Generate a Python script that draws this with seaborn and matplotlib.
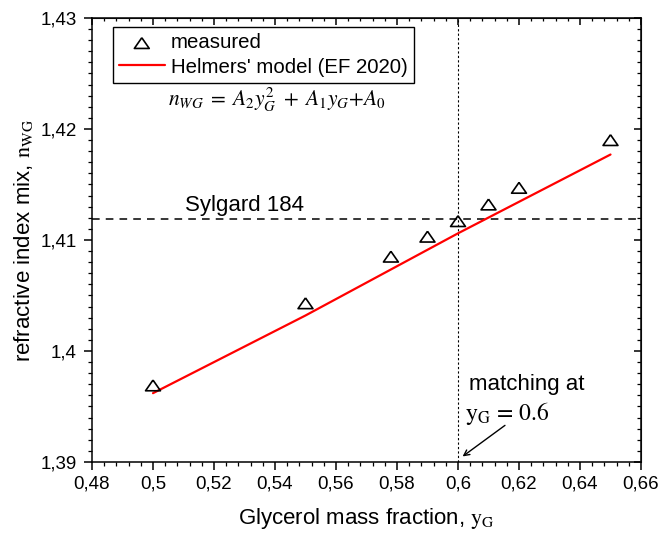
import numpy as np
import pandas as pd
import matplotlib
matplotlib.use("Agg")
import matplotlib.pyplot as plt
import seaborn as sns
from matplotlib.ticker import MultipleLocator, FuncFormatter

# measured data
y_meas = [0.50, 0.55, 0.578, 0.59, 0.60, 0.61, 0.62, 0.65]
n_meas = [1.3969, 1.4043, 1.4085, 1.4103, 1.4117, 1.4132, 1.4147, 1.4190]
# model curve
y_model = [0.50, 0.55, 0.60, 0.65]
n_model = [1.3962, 1.4032, 1.4106, 1.4177]
# reference values
n_sylgard = 1.4119
y_match = 0.6

sns.set_style("ticks")
plt.rcParams['font.family'] = ['Liberation Sans', 'DejaVu Sans']
plt.rcParams['mathtext.fontset'] = 'stix'
for k in ['text.color', 'axes.labelcolor', 'xtick.color', 'ytick.color',
          'xtick.labelcolor', 'ytick.labelcolor']:
    plt.rcParams[k] = 'black'

fig = plt.figure(figsize=(6.59, 5.34), dpi=100)
ax = fig.add_axes([92/659, 72/534, 549/659, 444/534])

df_m = pd.DataFrame({"y": y_meas, "n": n_meas})
df_l = pd.DataFrame({"y": y_model, "n": n_model})

tri = [(0, 0.72), (-1, -0.72), (1, -0.72), (0, 0.72)]

sns.lineplot(data=df_l, x="y", y="n", ax=ax, color="red", lw=1.6,
             label="Helmers' model (EF 2020)", zorder=3)
sns.scatterplot(data=df_m, x="y", y="n", ax=ax, marker=tri, s=115,
                facecolor="none", edgecolor="black", linewidth=1.2,
                label="measured", zorder=4)

ax.axhline(n_sylgard, color="black", ls=(0, (5, 4)), lw=1.1, zorder=2)
ax.axvline(y_match, color="black", ls=(0, (2, 2)), lw=0.8, zorder=2)

ax.set_xlim(0.48, 0.66)
ax.set_ylim(1.39, 1.43)

fmt = FuncFormatter(lambda v, p: ("%g" % round(v, 4)).replace(".", ","))
ax.xaxis.set_major_locator(MultipleLocator(0.02))
ax.xaxis.set_minor_locator(MultipleLocator(0.004))
ax.yaxis.set_major_locator(MultipleLocator(0.01))
ax.yaxis.set_minor_locator(MultipleLocator(0.001))
ax.xaxis.set_major_formatter(fmt)
ax.yaxis.set_major_formatter(fmt)
ax.tick_params(which="major", direction="out", length=6, width=1.1, labelsize=13.5,
               color="black", labelcolor="black")
ax.tick_params(which="minor", direction="out", length=3, width=0.9, color="black")
ax.tick_params(axis="x", pad=4)
ax.tick_params(axis="y", pad=5)

for sp in ax.spines.values():
    sp.set_visible(True)
    sp.set_linewidth(1.1)
    sp.set_color("black")

top = ax.secondary_xaxis('top')
top.xaxis.set_major_locator(MultipleLocator(0.02))
top.xaxis.set_minor_locator(MultipleLocator(0.004))
top.tick_params(which="major", direction="in", length=5, width=1.1, color="black")
top.tick_params(which="minor", direction="in", length=2.5, width=0.9, color="black")
top.set_xticklabels([])
right = ax.secondary_yaxis('right')
right.yaxis.set_major_locator(MultipleLocator(0.01))
right.yaxis.set_minor_locator(MultipleLocator(0.001))
right.tick_params(which="major", direction="in", length=5, width=1.1, color="black")
right.tick_params(which="minor", direction="in", length=3, width=0.9, color="black")
right.set_yticklabels([])

ax.set_xlabel(r"Glycerol mass fraction, $\mathrm{y_G}$", fontsize=16, color="black")
ax.set_ylabel(r"refractive index mix, $\mathrm{n_{WG}}$", fontsize=16, color="black")
ax.xaxis.label.set_va("center")
ax.yaxis.label.set_va("center")
ax.xaxis.set_label_coords(0.5, -0.127)
ax.yaxis.set_label_coords(-0.124, 0.5)

handles, labels = ax.get_legend_handles_labels()
order = [labels.index("measured"), labels.index("Helmers' model (EF 2020)")]
leg = ax.legend([handles[i] for i in order], [labels[i] for i in order],
                loc="upper left", bbox_to_anchor=(0.0377, 0.979), borderaxespad=0,
                fontsize=14.7, frameon=True, fancybox=False, edgecolor="black",
                handlelength=2.25, handletextpad=0.3, borderpad=0.3,
                labelspacing=0.25)
leg.get_frame().set_linewidth(1.0)
leg.get_frame().set_alpha(1)
for t in leg.get_texts():
    t.set_color("black")

ax.text(0.5049, 1.4226, r"$n_{WG}\;=\;A_2y_G^2\;+\;A_1y_G{+}A_0$", fontsize=15.5,
        ha="left", va="center", color="black")
ax.text(0.5105, 1.4131, "Sylgard 184", fontsize=16, ha="left", va="center", color="black")
ax.text(0.6036, 1.3965, "matching at", fontsize=16, ha="left", va="baseline", color="black")
ax.text(0.6023, 1.3938, r"$\mathrm{y_G}\,=\,0.6$", fontsize=17, ha="left", va="baseline",
        color="black")
ax.annotate("", xy=(0.6015, 1.3905), xytext=(0.6154, 1.3933),
            arrowprops=dict(arrowstyle="->", color="black", lw=1.0,
                            shrinkA=0, shrinkB=0))

fig.savefig("out.png", dpi=100)
